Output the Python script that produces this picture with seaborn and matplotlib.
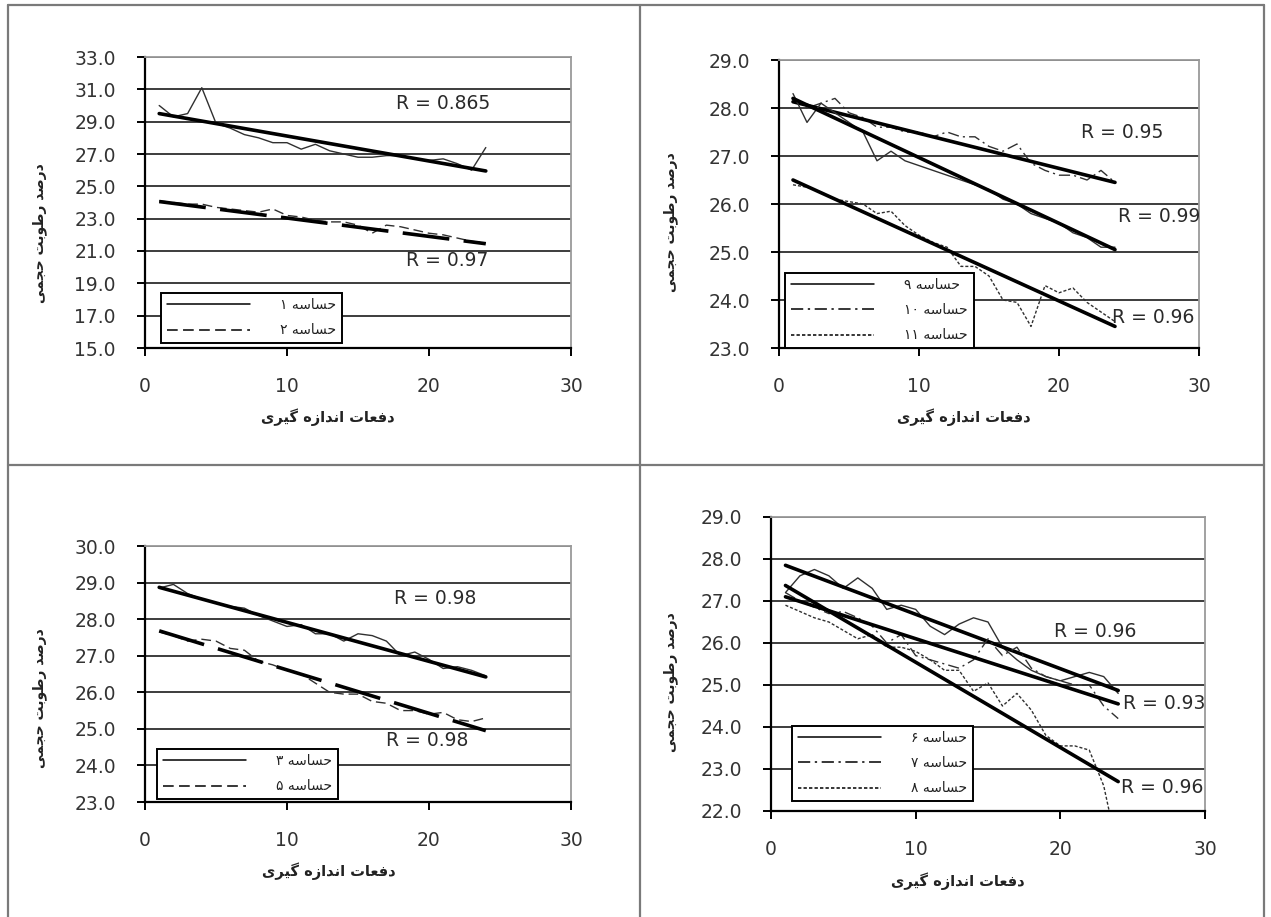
import re
import matplotlib
matplotlib.use("Agg")
import matplotlib.pyplot as plt
from matplotlib.lines import Line2D
import seaborn as sns

sns.set_theme(style="white")
plt.rcParams["font.family"] = ["DejaVu Sans"]

# ---------------- data ----------------
runs = list(range(1, 25))

sensor1 = [30.0, 29.3, 29.5, 31.1, 28.9, 28.6, 28.2, 28.0, 27.7, 27.7, 27.3, 27.6,
           27.2, 27.0, 26.8, 26.8, 26.9, 26.9, 26.7, 26.6, 26.7, 26.4, 26.0, 27.4]
sensor2 = [24.1, 24.0, 23.9, 23.9, 23.7, 23.6, 23.5, 23.4, 23.6, 23.2, 23.1, 22.9,
           22.8, 22.8, 22.6, 22.1, 22.6, 22.5, 22.3, 22.1, 22.0, 21.8, 21.6, 21.5]

sensor9 = [28.3, 27.7, 28.1, 27.9, 27.7, 27.5, 26.9, 27.1, 26.9, 26.8, 26.7, 26.6,
           26.5, 26.4, 26.3, 26.1, 26.0, 25.8, 25.7, 25.6, 25.4, 25.3, 25.1, 25.1]
sensor10 = [28.2, 28.0, 28.1, 28.2, 27.9, 27.8, 27.6, 27.6, 27.5, 27.5, 27.4, 27.5,
            27.4, 27.4, 27.2, 27.1, 27.25, 26.85, 26.7, 26.6, 26.6, 26.5, 26.7, 26.45]
sensor11 = [26.4, 26.35, 26.25, 26.1, 26.05, 26.0, 25.8, 25.85, 25.55, 25.35, 25.2, 25.1,
            24.7, 24.7, 24.5, 24.0, 23.95, 23.45, 24.3, 24.15, 24.25, 23.95, 23.75, 23.55]

sensor3 = [28.85, 28.95, 28.7, 28.55, 28.45, 28.35, 28.3, 28.1, 27.95, 27.8, 27.85, 27.6,
           27.6, 27.4, 27.6, 27.55, 27.4, 27.0, 27.1, 26.9, 26.65, 26.7, 26.6, 26.45]
sensor5 = [27.65, 27.55, 27.4, 27.45, 27.4, 27.2, 27.15, 26.85, 26.75, 26.6, 26.5, 26.25,
           26.0, 25.95, 25.95, 25.75, 25.7, 25.5, 25.5, 25.4, 25.45, 25.25, 25.2, 25.3]

sensor6 = [27.2, 27.6, 27.75, 27.6, 27.3, 27.55, 27.3, 26.8, 26.9, 26.8, 26.4, 26.2,
           26.45, 26.6, 26.5, 25.9, 25.6, 25.35, 25.2, 25.1, 25.2, 25.3, 25.2, 24.8]
sensor7 = [27.2, 27.0, 26.85, 26.7, 26.75, 26.6, 26.4, 26.0, 26.2, 25.7, 25.6, 25.5,
           25.4, 25.6, 26.1, 25.7, 25.9, 25.4, 25.2, 25.1, 25.0, 25.0, 24.5, 24.2]
sensor8 = [26.9, 26.75, 26.6, 26.5, 26.3, 26.1, 26.2, 25.9, 25.9, 25.8, 25.6, 25.35,
           25.35, 24.85, 25.05, 24.5, 24.8, 24.4, 23.8, 23.55, 23.55, 23.45, 22.6, 21.0]

# linear trend lines: value at first and last run
trend_x = [1, 24]
trend1 = [29.5, 25.95]
trend2 = [24.06, 21.45]
trend9 = [28.2, 25.05]
trend10 = [28.13, 26.45]
trend11 = [26.5, 23.45]
trend3 = [28.87, 26.42]
trend5 = [27.68, 24.95]
trend6 = [27.85, 24.87]
trend7 = [27.1, 24.55]
trend8 = [27.37, 22.7]

r_labels1 = ["R = 0.865", "R = 0.97"]
r_labels2 = ["R = 0.95", "R = 0.99", "R = 0.96"]
r_labels3 = ["R = 0.98", "R = 0.98"]
r_labels4 = ["R = 0.96", "R = 0.93", "R = 0.96"]

y_ticks1 = [15, 17, 19, 21, 23, 25, 27, 29, 31, 33]
y_ticks2 = [23, 24, 25, 26, 27, 28, 29]
y_ticks3 = [23, 24, 25, 26, 27, 28, 29, 30]
y_ticks4 = [22, 23, 24, 25, 26, 27, 28, 29]
x_ticks = [0, 10, 20, 30]

x_title = "دفعات اندازه گیری"
y_title = "درصد رطوبت حجمی"
sensor_word = "حساسه"

# ---------------- Persian text shaping (isolated, final, initial, medial) ----------------
_FORMS = {
    "ا": ("\ufe8d", "\ufe8e", None, None),
    "ب": ("\ufe8f", "\ufe90", "\ufe91", "\ufe92"),
    "ت": ("\ufe95", "\ufe96", "\ufe97", "\ufe98"),
    "ج": ("\ufe9d", "\ufe9e", "\ufe9f", "\ufea0"),
    "ح": ("\ufea1", "\ufea2", "\ufea3", "\ufea4"),
    "د": ("\ufea9", "\ufeaa", None, None),
    "ر": ("\ufead", "\ufeae", None, None),
    "ز": ("\ufeaf", "\ufeb0", None, None),
    "س": ("\ufeb1", "\ufeb2", "\ufeb3", "\ufeb4"),
    "ص": ("\ufeb9", "\ufeba", "\ufebb", "\ufebc"),
    "ط": ("\ufec1", "\ufec2", "\ufec3", "\ufec4"),
    "ع": ("\ufec9", "\ufeca", "\ufecb", "\ufecc"),
    "ف": ("\ufed1", "\ufed2", "\ufed3", "\ufed4"),
    "م": ("\ufee1", "\ufee2", "\ufee3", "\ufee4"),
    "ن": ("\ufee5", "\ufee6", "\ufee7", "\ufee8"),
    "ه": ("\ufee9", "\ufeea", "\ufeeb", "\ufeec"),
    "و": ("\ufeed", "\ufeee", None, None),
    "ی": ("\ufbfc", "\ufbfd", "\ufbfe", "\ufbff"),
    "گ": ("\ufb92", "\ufb93", "\ufb94", "\ufb95"),
}
_DIGITS = "0123456789\u06f0\u06f1\u06f2\u06f3\u06f4\u06f5\u06f6\u06f7\u06f8\u06f9"


def _shape(word):
    out = []
    for i, ch in enumerate(word):
        forms = _FORMS.get(ch)
        if forms is None:
            out.append(ch)
            continue
        prev = word[i - 1] if i > 0 else None
        nxt = word[i + 1] if i + 1 < len(word) else None
        link_prev = prev in _FORMS and _FORMS[prev][2] is not None
        link_next = forms[2] is not None and nxt in _FORMS
        if link_prev and link_next:
            out.append(forms[3])
        elif link_prev:
            out.append(forms[1])
        elif link_next:
            out.append(forms[2])
        else:
            out.append(forms[0])
    return "".join(out)


def rtl(text):
    parts = re.findall(f"[{_DIGITS}]+|[^{_DIGITS}]+", text)
    vis = []
    for p in reversed(parts):
        vis.append(p if p[0] in _DIGITS else _shape(p)[::-1])
    return "".join(vis)


def fa_num(n):
    return "".join(chr(0x06F0 + int(d)) for d in str(n))


# ---------------- figure ----------------
W, H = 1271, 917
fig = plt.figure(figsize=(W / 100, H / 100), dpi=100)
fig.patch.set_facecolor("white")

INK = "#222222"
THIN = "#303030"
SOLID = "-"
DASHED = (0, (7, 3.5))
DASHDOT = (0, (8, 3, 1.5, 3))
DOTTED = (0, (2.2, 1.4))
TREND_DASH = (0, (13, 4))


def px_box(l, t, r, b):
    return [l / W, 1 - b / H, (r - l) / W, (b - t) / H]


panels = [
    dict(box=(145, 57, 571, 348), ylim=(15, 33), yticks=y_ticks1,
         series=[(sensor1, trend1, SOLID, "-", 1), (sensor2, trend2, DASHED, TREND_DASH, 2)],
         rlabels=r_labels1, rpos=[(17.7, 30.1), (18.4, 20.4)],
         legend_order=[0, 1], leg_at=(161, 343),
         ylab_at=(40, 233), xlab_at=(328, 417)),
    dict(box=(779, 60, 1199, 348), ylim=(23, 29), yticks=y_ticks2,
         series=[(sensor10, trend10, DASHDOT, "-", 10), (sensor9, trend9, SOLID, "-", 9),
                 (sensor11, trend11, DOTTED, "-", 11)],
         rlabels=r_labels2, rpos=[(21.6, 27.5), (24.2, 25.73), (23.75, 23.63)],
         legend_order=[1, 0, 2], leg_at=(785, 348),
         ylab_at=(671, 222), xlab_at=(964, 417)),
    dict(box=(145, 546, 571, 802), ylim=(23, 30), yticks=y_ticks3,
         series=[(sensor3, trend3, SOLID, "-", 3), (sensor5, trend5, DASHED, TREND_DASH, 5)],
         rlabels=r_labels3, rpos=[(17.55, 28.57), (17.0, 24.69)],
         legend_order=[0, 1], leg_at=(157, 799),
         ylab_at=(40, 698), xlab_at=(329, 871)),
    dict(box=(771, 517, 1205, 811), ylim=(22, 29), yticks=y_ticks4,
         series=[(sensor6, trend6, SOLID, "-", 6), (sensor7, trend7, DASHDOT, "-", 7),
                 (sensor8, trend8, DOTTED, "-", 8)],
         rlabels=r_labels4, rpos=[(19.55, 26.27), (24.3, 24.55), (24.17, 22.57)],
         legend_order=[0, 1, 2], leg_at=(792, 801),
         ylab_at=(671, 682), xlab_at=(958, 881)),
]

for p in panels:
    ax = fig.add_axes(px_box(*p["box"]))
    ax.set_facecolor("white")
    ax.set_xlim(0, 30)
    ax.set_ylim(*p["ylim"])
    ax.set_xticks(x_ticks, [str(t) for t in x_ticks])
    ax.set_yticks(p["yticks"], [f"{t:.1f}" for t in p["yticks"]])
    ax.yaxis.grid(True, color="#3c3c3c", lw=1.4)
    ax.xaxis.grid(False)
    ax.set_axisbelow(True)
    for side in ("top", "right"):
        ax.spines[side].set_color("#9a9a9a")
        ax.spines[side].set_linewidth(1.3)
    for side in ("left", "bottom"):
        ax.spines[side].set_color("black")
        ax.spines[side].set_linewidth(1.6)
    ax.tick_params(axis="both", direction="out", length=6, width=1.4, color="black",
                   labelsize=13.5, labelcolor="#333333", pad=15,
                   left=True, bottom=True)

    handles, labels = [], []
    for values, trend, ls, tls, num in p["series"]:
        sns.lineplot(x=runs, y=values, ax=ax, color=THIN, lw=1.0, linestyle=ls,
                     legend=False, estimator=None, sort=False)
        sns.lineplot(x=trend_x, y=trend, ax=ax, color="black", lw=2.6, linestyle=tls,
                     legend=False, estimator=None, sort=False)
        handles.append(Line2D([], [], color="black", lw=1.1, linestyle=ls))
        labels.append(rtl(f"{sensor_word} {fa_num(num)}"))

    for text, (tx, ty) in zip(p["rlabels"], p["rpos"]):
        ax.text(tx, ty, text, fontsize=13.5, color="#2a2a2a", ha="left", va="center")

    ax.set_xlabel(rtl(x_title), fontsize=10.5, fontweight="bold", color=INK)
    ax.set_ylabel(rtl(y_title), fontsize=10, fontweight="bold", color=INK)
    l, t, r, b = p["box"]
    xl, yl = p["xlab_at"]
    ax.xaxis.set_label_coords((xl - l) / (r - l), (b - yl) / (b - t))
    ax.xaxis.label.set_va("center")
    xl, yl = p["ylab_at"]
    ax.yaxis.set_label_coords((xl - l) / (r - l), (b - yl) / (b - t))
    ax.yaxis.label.set_va("center")

    order = p["legend_order"]
    lx, ly = p["leg_at"]
    leg = ax.legend([handles[i] for i in order], [labels[i] for i in order],
                    loc="lower left", bbox_to_anchor=(lx / W, 1 - ly / H),
                    bbox_transform=fig.transFigure, borderaxespad=0,
                    frameon=True, fancybox=False, framealpha=1, edgecolor="black",
                    fontsize=10, handlelength=6.0, handletextpad=2.2,
                    borderpad=0.4, labelspacing=0.8)
    leg.get_frame().set_linewidth(1.4)
    for txt in leg.get_texts():
        txt.set_color(INK)

# quadrant frame lines
frame_kw = dict(transform=fig.transFigure, color="#7a7a7a", lw=1.6)
for (x0, y0, x1, y1) in [(8, 5, 1264, 5), (8, 5, 8, 917), (1264, 5, 1264, 917),
                         (640, 5, 640, 917), (8, 465, 1264, 465)]:
    fig.add_artist(Line2D([x0 / W, x1 / W], [1 - y0 / H, 1 - y1 / H], **frame_kw))

fig.savefig("out.png", dpi=100, facecolor="white")
